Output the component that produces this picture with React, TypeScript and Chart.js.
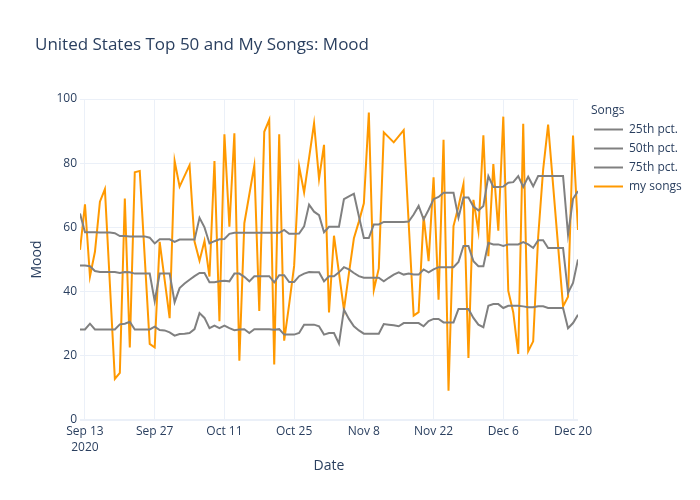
import React, { useEffect, useRef } from "react";
import { Chart, registerables } from "chart.js";

Chart.register(...registerables);

// Day 0 = Sep 13, 2020
const MONTHS = ["Jan", "Feb", "Mar", "Apr", "May", "Jun", "Jul", "Aug", "Sep", "Oct", "Nov", "Dec"];
const tickDays = [0, 14, 28, 42, 56, 70, 84, 98];
const firstDay = -1; // Sep 12, 2020 — daily series start

const p25 = [
  28.2, 28.2, 30.0, 28.2, 28.2, 28.2, 28.2, 28.2, 29.8, 30.0,
  30.6, 28.2, 28.2, 28.2, 28.2, 29.1, 28.0, 27.9, 27.3, 26.3,
  26.8, 26.9, 27.1, 28.3, 33.3, 31.8, 28.6, 29.4, 28.6, 29.4,
  28.6, 28.0, 28.2, 28.3, 27.1, 28.3, 28.3, 28.3, 28.3, 28.1,
  28.3, 26.6, 26.6, 26.6, 27.1, 29.7, 29.7, 29.7, 29.2, 26.6,
  27.1, 27.1, 23.8, 34.4, 31.5, 29.2, 27.9, 26.9, 26.9, 26.9,
  26.9, 29.9, 29.7, 29.5, 29.2, 30.2, 30.2, 30.2, 30.2, 29.2,
  30.8, 31.5, 31.5, 30.4, 30.4, 30.4, 34.6, 34.6, 34.6, 31.8,
  29.7, 28.9, 35.6, 36.1, 36.1, 34.9, 35.6, 35.6, 35.6, 35.4,
  35.1, 35.1, 35.4, 35.4, 34.9, 34.9, 34.9, 34.9, 28.6, 30.2,
  32.8,
];

const p50 = [
  48.1, 48.1, 47.9, 46.4, 46.1, 46.1, 46.1, 46.1, 45.8, 46.1,
  46.0, 45.6, 45.6, 45.6, 45.6, 37.0, 45.6, 45.6, 45.6, 36.7,
  41.1, 42.5, 43.7, 44.8, 45.8, 45.8, 42.9, 42.9, 43.2, 43.4,
  43.2, 45.6, 45.6, 44.6, 43.2, 44.8, 44.8, 44.8, 44.8, 42.9,
  45.1, 45.1, 43.0, 43.0, 44.8, 45.6, 46.1, 46.0, 46.0, 43.2,
  44.8, 44.8, 46.0, 47.6, 46.9, 45.8, 44.8, 44.3, 44.3, 44.3,
  44.3, 43.2, 44.3, 45.3, 46.0, 45.3, 45.6, 45.3, 45.3, 46.9,
  46.0, 46.9, 47.6, 47.6, 47.6, 47.6, 49.2, 54.2, 54.2, 49.5,
  47.9, 47.9, 55.2, 54.7, 54.7, 54.2, 54.7, 54.7, 54.7, 55.4,
  54.7, 53.6, 56.0, 56.0, 53.6, 53.6, 53.6, 53.6, 39.6, 42.7,
  50.0,
];

const p75 = [
  64.3, 58.5, 58.5, 58.5, 58.4, 58.4, 58.4, 58.2, 57.3, 57.3,
  57.2, 57.2, 57.2, 57.2, 56.8, 55.0, 56.3, 56.3, 56.3, 55.5,
  56.2, 56.2, 56.2, 56.2, 63.0, 60.0, 55.0, 55.7, 56.3, 56.4,
  58.0, 58.3, 58.3, 58.3, 58.3, 58.3, 58.3, 58.3, 58.3, 58.3,
  58.3, 59.2, 58.0, 58.0, 58.1, 60.3, 67.1, 64.9, 63.8, 58.5,
  60.2, 60.2, 60.2, 68.8, 69.7, 70.5, 63.5, 56.7, 56.7, 60.9,
  60.9, 61.7, 61.7, 61.7, 61.7, 61.7, 61.8, 64.0, 66.7, 62.5,
  65.5, 68.8, 69.5, 70.8, 70.8, 70.8, 63.0, 69.3, 69.3, 66.5,
  65.3, 66.7, 76.0, 72.6, 72.6, 72.7, 73.9, 74.1, 76.0, 72.6,
  75.8, 72.8, 76.0, 76.0, 76.0, 76.0, 76.0, 76.0, 57.7, 68.9,
  71.3,
];

const songDays = [
  -1, 0, 1, 2, 3, 4, 6, 7, 8, 9, 10, 11, 13, 14, 15, 17, 18, 19, 21, 22,
  23, 24, 25, 26, 27, 28, 29, 30, 31, 32, 34, 35, 36, 37, 38, 39, 40, 41, 42, 43,
  44, 46, 47, 48, 49, 50, 52, 53, 54, 55, 56, 57, 58, 59, 60, 62, 64, 66, 67, 68,
  69, 70, 71, 72, 73, 74, 75, 76, 77, 78, 79, 80, 81, 82, 83, 84, 85, 86, 87, 88,
  89, 90, 91, 92, 93, 96, 97, 98, 99,
];

const songMood = [
  53.0, 67.2, 44.7, 52.4, 68.0, 71.9, 12.8, 14.7, 69.0, 22.6, 77.2, 77.6, 23.7, 22.6, 55.5, 31.7, 80.7, 72.7, 79.4, 55.6,
  49.6, 55.8, 44.7, 80.7, 30.8, 89.0, 60.2, 89.3, 18.5, 61.3, 79.2, 34.0, 89.8, 93.5, 17.3, 89.0, 24.7, 36.0, 48.0, 79.0,
  70.9, 92.4, 75.1, 85.7, 33.5, 57.4, 34.3, 45.7, 56.6, 61.8, 67.5, 95.8, 40.5, 47.2, 89.6, 86.5, 90.3, 32.5, 33.6, 63.5,
  49.5, 75.6, 37.5, 87.3, 9.1, 60.4, 66.5, 73.5, 19.3, 68.6, 58.9, 88.7, 51.0, 79.7, 59.0, 94.5, 40.2, 33.5, 20.6, 92.3,
  21.4, 24.5, 57.0, 78.0, 92.0, 35.4, 38.4, 88.6, 59.2,
];

const seriesNames = ["25th pct.", "50th pct.", "75th pct.", "my songs"];
const seriesColors = ["#808080", "#808080", "#808080", "#FF9900"];

const FONT = "'Open Sans', 'Noto Sans', sans-serif";
const TEXT = "#2a3f5f";
const GRID = "#EBF0F8";

function dayLabel(v: number): string | string[] {
  const d = new Date(Date.UTC(2020, 8, 13 + v));
  const s = `${MONTHS[d.getUTCMonth()]} ${d.getUTCDate()}`;
  return v === tickDays[0] ? [s, String(d.getUTCFullYear())] : s;
}

const overlay = {
  id: "overlay",
  afterDraw(chart: any) {
    const ctx = chart.ctx as CanvasRenderingContext2D;
    const area = chart.chartArea;
    ctx.save();
    ctx.fillStyle = TEXT;
    ctx.textBaseline = "middle";
    // title
    ctx.font = `17px ${FONT}`;
    ctx.textAlign = "left";
    ctx.fillText("United States Top 50 and My Songs: Mood", 35, 45);
    // axis titles
    ctx.font = `14px ${FONT}`;
    ctx.textAlign = "center";
    ctx.fillText("Date", (area.left + area.right) / 2, 466);
    ctx.save();
    ctx.translate(37, (area.top + area.bottom) / 2);
    ctx.rotate(-Math.PI / 2);
    ctx.fillText("Mood", 0, 0);
    ctx.restore();
    // legend
    ctx.font = `12px ${FONT}`;
    ctx.textAlign = "left";
    ctx.fillText("Songs", 591, 111);
    seriesNames.forEach((name, i) => {
      const y = 129.5 + i * 19;
      ctx.strokeStyle = seriesColors[i];
      ctx.lineWidth = 2;
      ctx.beginPath();
      ctx.moveTo(594, y);
      ctx.lineTo(623, y);
      ctx.stroke();
      ctx.fillStyle = TEXT;
      ctx.fillText(name, 629, y);
    });
    ctx.restore();
  },
};

export default function App() {
  const ref = useRef<HTMLCanvasElement | null>(null);

  useEffect(() => {
    if (!ref.current) return;
    const daily = (arr: number[]) => arr.map((v, i) => ({ x: firstDay + i, y: v }));
    const chart = new Chart(ref.current, {
      type: "line",
      data: {
        datasets: [
          { label: seriesNames[0], data: daily(p25), borderColor: seriesColors[0] },
          { label: seriesNames[1], data: daily(p50), borderColor: seriesColors[1] },
          { label: seriesNames[2], data: daily(p75), borderColor: seriesColors[2] },
          {
            label: seriesNames[3],
            data: songDays.map((d, i) => ({ x: d, y: songMood[i] })),
            borderColor: seriesColors[3],
          },
        ].map((ds) => ({ ...ds, borderWidth: 2, pointRadius: 0, tension: 0, fill: false })),
      },
      options: {
        animation: false,
        responsive: false,
        devicePixelRatio: 1,
        layout: { padding: { top: 99, right: 122, left: 0, bottom: 0 } },
        plugins: { legend: { display: false }, title: { display: false }, tooltip: { enabled: false } },
        scales: {
          x: {
            type: "linear",
            min: -1,
            max: 99,
            afterBuildTicks: (s: any) => {
              s.ticks = tickDays.map((v) => ({ value: v }));
            },
            afterFit: (s: any) => {
              s.height = 80;
            },
            ticks: {
              autoSkip: false,
              maxRotation: 0,
              padding: 4,
              color: TEXT,
              font: { family: FONT, size: 12, lineHeight: 1.3 },
              callback: (v: any) => dayLabel(Number(v)),
            },
            grid: { color: GRID, lineWidth: 1, drawTicks: false },
            border: { display: false },
          },
          y: {
            min: 0,
            max: 100,
            afterFit: (s: any) => {
              s.width = 80;
            },
            ticks: {
              stepSize: 20,
              padding: 3,
              color: TEXT,
              font: { family: FONT, size: 12 },
            },
            grid: {
              color: GRID,
              lineWidth: (c: any) => (c.tick && c.tick.value === 0 ? 2 : 1),
              drawTicks: false,
            },
            border: { display: false },
          },
        },
      },
      plugins: [overlay],
    } as any);
    return () => chart.destroy();
  }, []);

  return (
    <div style={{ position: "absolute", left: 0, top: 0, width: 700, height: 500, background: "#fff" }}>
      <canvas ref={ref} width={700} height={500} style={{ width: 700, height: 500, display: "block" }} />
    </div>
  );
}
